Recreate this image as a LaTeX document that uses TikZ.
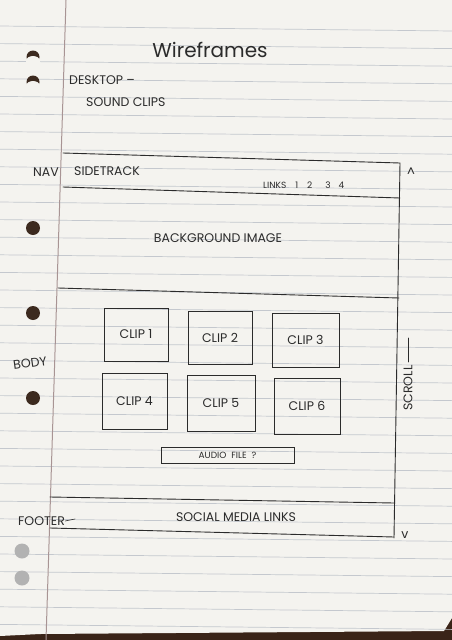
\documentclass[tikz,border=0pt]{standalone}
\usepackage{fontspec}
\setmainfont{Poppins}
\definecolor{desk}{HTML}{3A2418}
\definecolor{paper}{HTML}{F4F3EF}
\definecolor{rule}{HTML}{C4C8CE}
\definecolor{margin}{HTML}{A89494}
\definecolor{pencil}{HTML}{2B2B2B}
\definecolor{hole}{HTML}{3C2A1F}
\tikzset{
  frame/.style={draw=pencil, line width=0.9pt, line cap=round},
  hand/.style={text=pencil, inner sep=0pt, font=\fontsize{12.5}{12.5}\selectfont},
  small/.style={text=pencil, inner sep=0pt, font=\fontsize{9}{9}\selectfont},
  clipbox/.style={frame, fill=none}
}
\begin{document}
\begin{tikzpicture}[x=1pt, y=-1pt]
\useasboundingbox (0,0) rectangle (452,640);
% desk and sheet
\fill[desk] (0,0) rectangle (452,640);
\fill[paper] (0,0) -- (452,0) -- (452,618) -- (444,631) -- (40,634) -- (0,636) -- cycle;
% ruled lines
\foreach \i in {0,...,34} {
  \draw[rule, line width=0.7pt] (0,{26+17.6*\i}) -- (452,{31+17.6*\i});
}
% margin line
\draw[margin, line width=1pt] (66,0) -- (46,640);
% punched holes
\foreach \y in {57,82} {
  \fill[hole] (33,\y) circle (6.5);
  \fill[paper] (33,{\y+4}) ellipse (7 and 5);
}
\foreach \y in {228,313,398} { \fill[hole] (33,\y) circle (7); }
\foreach \y in {551,578} { \fill[gray!60] (22,\y) circle (7.5); }
% heading
\node[text=pencil, font=\fontsize{20}{20}\selectfont] (title) at (210,50) {Wireframes};
\node[hand, anchor=west] (desktop) at (69,80) {DESKTOP –};
\node[hand, anchor=west] (sound) at (86,102) {SOUND CLIPS};
% page frame
\coordinate (tl) at (63,153);
\coordinate (tr) at (400,163);
\coordinate (br) at (394,538);
\draw[frame] (tl) -- (tr) -- (br);
\draw[frame] (63,187) -- (400,198);
\draw[frame] (58,288) -- (399,298);
\draw[frame] (50,497) -- (394,503);
\draw[frame] (50,528) -- (394,537);
% nav
\node[hand, anchor=east] (nav) at (59,172) {NAV};
\node[hand, anchor=west] (side) at (74,171) {SIDETRACK};
\node[small, anchor=west] (links) at (263,185) {LINKS\hspace{9pt}1\hspace{9pt}2\hspace{13pt}3\hspace{8pt}4};
\node[hand] (up) at (411,172) {\^{}};
% background image
\node[hand] (bg) at (218,238) {BACKGROUND IMAGE};
% body
\node[hand, rotate=8] (body) at (30,363) {BODY};
\draw[clipbox] (104,308) rectangle (168,361) node[midway, hand] (c1) {CLIP 1};
\draw[clipbox] (188,311) rectangle (252,364) node[midway, hand] (c2) {CLIP 2};
\draw[clipbox] (272,313) rectangle (339,367) node[midway, hand] (c3) {CLIP 3};
\draw[clipbox] (102,373) rectangle (167,429) node[midway, hand] (c4) {CLIP 4};
\draw[clipbox] (187,375) rectangle (255,431) node[midway, hand] (c5) {CLIP 5};
\draw[clipbox] (274,378) rectangle (340,434) node[midway, hand] (c6) {CLIP 6};
\draw[clipbox] (161,447) rectangle (294,463) node[midway, small] (audio) {AUDIO\hspace{5pt}FILE\hspace{5pt}?};
% scroll
\node[hand, rotate=90] (scroll) at (408,388) {SCROLL};
\coordinate (scrolltop) at (408,338);
\coordinate (scrollend) at (408,362);
\draw[frame, line width=0.6pt] (scrollend) -- (scrolltop);
% footer
\node[hand, anchor=west] (footer) at (18,521) {FOOTER};
\draw[frame, line width=0.6pt] (footer.east) -- ++(10,-2);
\node[hand] (social) at (236,517) {SOCIAL MEDIA LINKS};
\node[hand] (down) at (405,535) {v};
\end{tikzpicture}
\end{document}
